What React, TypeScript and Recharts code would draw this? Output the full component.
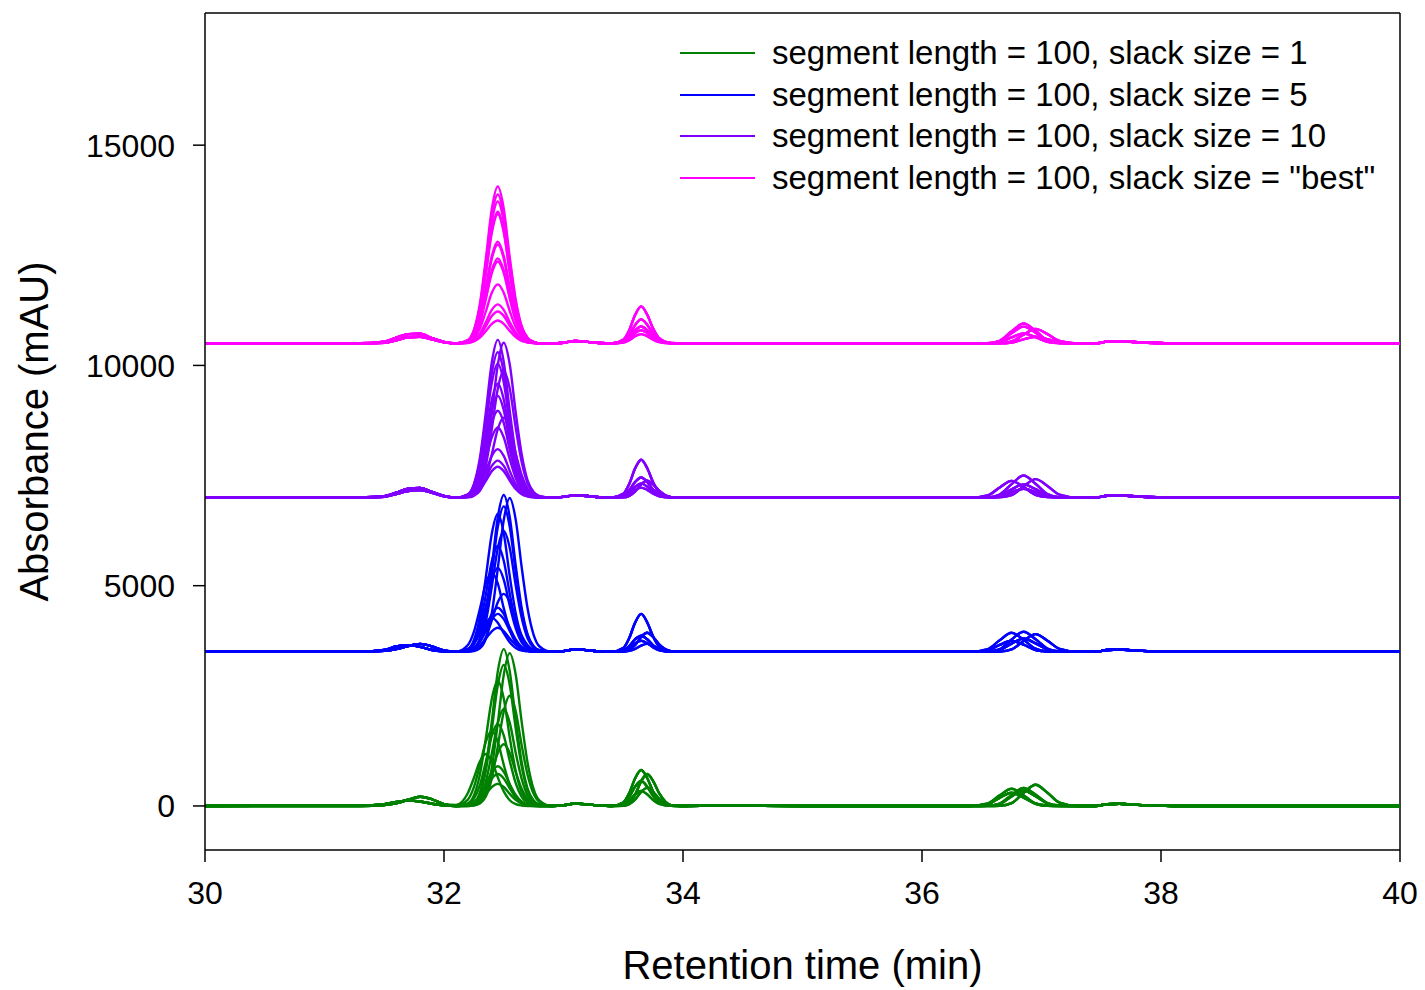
import React from 'react';
import { LineChart, Line, XAxis, YAxis, Legend, ReferenceLine } from 'recharts';

document.body.style.margin = '0';

const FONT = '"Liberation Sans", Arial, Helvetica, sans-serif';

// sample times (min) for each stretch of the chromatogram
const preX = [30, 31.3, 31.5, 31.6, 31.7, 31.8, 31.9, 32.0];
const mainX = [32.1, 32.2, 32.25, 32.3, 32.35, 32.4, 32.45, 32.5, 32.55, 32.6, 32.65, 32.7, 32.75, 32.8, 32.9];
const midX = [33.0, 33.1, 33.2, 33.3];
const secondX = [33.4, 33.5, 33.55, 33.6, 33.65, 33.7, 33.75, 33.8, 33.9, 34.0];
const flatX = [34.3, 35.0, 35.8, 36.2];
const fourthX = [36.4, 36.55, 36.65, 36.75, 36.85, 36.95, 37.05, 37.15, 37.3, 37.45];
const postX = [37.55, 37.65, 37.8, 38.1, 40];

// shared small features (mAU above each baseline)
const midBump = [15, 55, 35, 10];
const flatBase = [5, 0, 0, 0];
const postBump = [40, 50, 25, 0, 0];

const xTicks = [30, 32, 34, 36, 38, 40];
const yTicks = [0, 5000, 10000, 15000];

const legendLabels = [
  'segment length = 100, slack size = 1',
  'segment length = 100, slack size = 5',
  'segment length = 100, slack size = 10',
  'segment length = 100, slack size = "best"',
];
const colors = ['#008000', '#0000FF', '#8000FF', '#FF00FF'];
const baselines = [0, 3500, 7000, 10500];

// slack size = 1
const greenPre = [
  [0, 10, 40, 90, 120, 100, 50, 15],
  [0, 0, 20, 60, 140, 210, 150, 40],
];
const greenMain = [
  [0, 15, 75, 305, 890, 1920, 3050, 3560, 3060, 1960, 995, 390, 125, 35, 0],
  [0, 0, 15, 75, 295, 870, 1875, 2975, 3470, 2985, 1910, 970, 380, 120, 0],
  [0, 15, 65, 270, 800, 1730, 2740, 3200, 2750, 1760, 895, 350, 110, 30, 0],
  [0, 60, 240, 710, 1530, 2430, 2835, 2440, 1560, 795, 310, 100, 30, 0, 0],
  [0, 0, 10, 55, 215, 625, 1350, 2145, 2500, 2150, 1375, 700, 275, 90, 0],
  [0, 10, 45, 185, 550, 1190, 1885, 2200, 1890, 1210, 615, 240, 75, 20, 0],
  [0, 40, 160, 465, 1005, 1595, 1860, 1600, 1025, 520, 205, 65, 20, 0, 0],
  [5, 145, 425, 920, 1455, 1700, 1460, 935, 475, 185, 60, 15, 0, 0, 0],
  [0, 5, 30, 120, 350, 755, 1200, 1400, 1205, 770, 390, 155, 50, 15, 0],
  [25, 295, 635, 1010, 1180, 1015, 650, 330, 130, 40, 10, 0, 0, 0, 0],
  [0, 20, 75, 225, 485, 770, 900, 775, 495, 250, 100, 30, 10, 0, 0],
  [0, 15, 60, 180, 390, 620, 725, 625, 400, 205, 80, 25, 5, 0, 0],
  [0, 10, 45, 125, 270, 430, 500, 430, 275, 140, 55, 20, 5, 0, 0],
];
const greenSecond = [
  [0, 80, 295, 630, 815, 635, 325, 115, 10, 0],
  [0, 10, 75, 260, 560, 725, 565, 290, 20, 0],
  [0, 55, 205, 440, 565, 440, 225, 80, 5, 0],
  [0, 5, 40, 150, 320, 410, 320, 165, 10, 0],
  [0, 35, 120, 265, 340, 265, 135, 50, 5, 0],
];
const greenFourth = [
  [0, 55, 240, 390, 245, 60, 10, 0, 0, 0],
  [0, 5, 55, 250, 410, 260, 65, 10, 0, 0],
  [0, 0, 5, 65, 295, 480, 300, 75, 0, 0],
  [0, 5, 45, 215, 350, 220, 55, 5, 0, 0],
  [0, 40, 185, 300, 190, 50, 5, 0, 0, 0],
];

// slack size = 5
const bluePre = [
  [0, 5, 40, 120, 150, 110, 40, 10],
  [0, 0, 20, 60, 130, 180, 120, 30],
];
const blueMain = [
  [0, 15, 75, 305, 890, 1920, 3050, 3560, 3060, 1960, 995, 390, 125, 35, 0],
  [0, 0, 15, 75, 295, 875, 1885, 2990, 3490, 3000, 1920, 975, 385, 120, 0],
  [0, 15, 70, 280, 825, 1780, 2830, 3300, 2840, 1815, 925, 365, 115, 35, 0],
  [0, 65, 265, 785, 1690, 2680, 3130, 2690, 1720, 875, 345, 110, 30, 0, 0],
  [0, 10, 60, 235, 685, 1480, 2350, 2745, 2360, 1510, 770, 300, 95, 25, 0],
  [0, 50, 205, 600, 1295, 2055, 2400, 2065, 1320, 670, 265, 85, 25, 0, 0],
  [0, 40, 160, 475, 1030, 1635, 1905, 1640, 1050, 535, 210, 65, 20, 0, 0],
  [5, 155, 450, 970, 1545, 1800, 1550, 990, 505, 200, 65, 20, 0, 0, 0],
  [0, 5, 30, 110, 330, 710, 1125, 1315, 1130, 725, 370, 145, 45, 15, 0],
  [0, 20, 85, 250, 540, 855, 1000, 860, 550, 280, 110, 35, 10, 0, 0],
  [0, 20, 75, 215, 465, 735, 860, 740, 475, 240, 95, 30, 10, 0, 0],
  [5, 65, 195, 415, 660, 770, 660, 425, 215, 85, 25, 10, 0, 0, 0],
  [0, 10, 45, 135, 295, 465, 545, 470, 300, 155, 60, 20, 5, 0, 0],
];
const blueSecond = [
  [0, 85, 310, 665, 860, 670, 345, 120, 10, 0],
  [0, 5, 45, 155, 335, 430, 335, 170, 15, 0],
  [0, 35, 130, 285, 365, 285, 145, 50, 5, 0],
  [0, 25, 90, 195, 250, 195, 100, 35, 5, 0],
  [0, 5, 20, 65, 140, 180, 140, 70, 5, 0],
];
const blueFourth = [
  [0, 60, 260, 430, 270, 70, 10, 0, 0, 0],
  [0, 5, 60, 280, 455, 285, 75, 10, 0, 0],
  [0, 0, 5, 55, 245, 400, 250, 65, 0, 0],
  [0, 5, 40, 185, 300, 190, 50, 5, 0, 0],
  [0, 35, 155, 250, 160, 40, 5, 0, 0, 0],
];

// slack size = 10
const purplePre = [
  [0, 5, 30, 110, 200, 220, 130, 40],
  [0, 0, 20, 80, 150, 170, 110, 30],
];
const purpleMain = [
  [0, 75, 305, 895, 1935, 3070, 3580, 3080, 1970, 1000, 395, 125, 35, 0, 0],
  [0, 15, 75, 300, 880, 1900, 3010, 3515, 3025, 1935, 985, 385, 125, 35, 0],
  [0, 70, 280, 825, 1780, 2830, 3300, 2840, 1815, 925, 365, 115, 35, 0, 0],
  [0, 65, 260, 760, 1640, 2605, 3040, 2615, 1670, 850, 335, 105, 30, 0, 0],
  [0, 10, 60, 245, 720, 1555, 2470, 2880, 2475, 1585, 805, 315, 100, 30, 0],
  [0, 55, 220, 645, 1395, 2215, 2585, 2225, 1420, 725, 285, 90, 25, 0, 0],
  [0, 50, 195, 580, 1250, 1980, 2310, 1985, 1270, 645, 255, 80, 25, 0, 0],
  [0, 40, 165, 495, 1065, 1690, 1970, 1695, 1085, 550, 215, 70, 20, 0, 0],
  [0, 5, 40, 155, 455, 980, 1555, 1815, 1560, 1000, 510, 200, 65, 20, 0],
  [0, 35, 135, 400, 860, 1365, 1590, 1365, 875, 445, 175, 55, 15, 0, 0],
  [0, 25, 95, 275, 595, 945, 1100, 945, 605, 310, 120, 40, 10, 0, 0],
  [0, 20, 70, 210, 455, 720, 840, 720, 460, 235, 90, 30, 10, 0, 0],
  [0, 15, 60, 175, 380, 600, 700, 600, 385, 195, 75, 25, 5, 0, 0],
];
const purpleSecond = [
  [0, 85, 310, 665, 860, 670, 345, 120, 10, 0],
  [0, 45, 165, 355, 455, 355, 180, 65, 5, 0],
  [0, 5, 40, 140, 300, 385, 300, 155, 10, 0],
  [0, 30, 115, 245, 318, 250, 125, 45, 5, 0],
  [0, 25, 80, 175, 227, 175, 90, 30, 0, 0],
];
const purpleFourth = [
  [0, 5, 70, 305, 500, 315, 80, 10, 0, 0],
  [0, 0, 5, 55, 255, 420, 265, 65, 0, 0],
  [0, 50, 230, 380, 240, 60, 10, 0, 0, 0],
  [0, 5, 40, 185, 300, 190, 50, 5, 0, 0],
  [0, 0, 25, 120, 200, 125, 30, 5, 0, 0],
];

// slack size = "best"
const magentaPre = [
  [0, 5, 40, 130, 210, 220, 120, 35],
  [0, 0, 15, 70, 140, 150, 90, 25],
];
const magentaMain = [
  [0, 75, 300, 890, 1920, 3050, 3560, 3060, 1960, 1000, 390, 125, 35, 0, 0],
  [0, 70, 290, 845, 1825, 2900, 3380, 2905, 1860, 945, 370, 120, 35, 0, 0],
  [0, 70, 275, 805, 1740, 2760, 3220, 2770, 1770, 900, 355, 115, 30, 0, 0],
  [0, 65, 255, 750, 1615, 2560, 2990, 2570, 1645, 835, 330, 105, 30, 0, 0],
  [0, 60, 250, 735, 1580, 2510, 2930, 2520, 1610, 820, 320, 105, 30, 0, 0],
  [0, 50, 195, 580, 1250, 1980, 2310, 1985, 1270, 645, 255, 80, 25, 0, 0],
  [0, 45, 190, 560, 1210, 1925, 2245, 1930, 1235, 630, 245, 80, 20, 0, 0],
  [0, 40, 165, 485, 1040, 1655, 1930, 1660, 1060, 540, 210, 70, 20, 0, 0],
  [0, 40, 160, 465, 1005, 1595, 1860, 1600, 1025, 520, 205, 65, 20, 0, 0],
  [0, 30, 115, 335, 725, 1150, 1340, 1150, 735, 375, 145, 45, 15, 0, 0],
  [0, 20, 75, 220, 480, 760, 885, 760, 485, 250, 95, 30, 10, 0, 0],
  [0, 15, 60, 180, 390, 620, 725, 625, 400, 205, 80, 25, 5, 0, 0],
  [0, 10, 45, 130, 280, 445, 520, 445, 285, 145, 55, 20, 5, 0, 0],
];
const magentaSecond = [
  [0, 85, 300, 650, 840, 655, 335, 120, 10, 0],
  [0, 55, 195, 420, 545, 425, 220, 75, 5, 0],
  [0, 40, 140, 300, 385, 300, 155, 55, 5, 0],
  [0, 30, 110, 235, 300, 235, 120, 40, 5, 0],
  [0, 20, 75, 165, 210, 165, 85, 30, 0, 0],
];
const magentaFourth = [
  [0, 5, 60, 275, 450, 285, 70, 10, 0, 0],
  [0, 5, 50, 230, 380, 240, 60, 10, 0, 0],
  [0, 0, 5, 45, 200, 330, 210, 55, 0, 0],
  [0, 0, 30, 135, 225, 140, 35, 5, 0, 0],
  [0, 0, 0, 20, 90, 150, 95, 25, 0, 0],
];

const groups = [
  { pre: greenPre, main: greenMain, second: greenSecond, fourth: greenFourth },
  { pre: bluePre, main: blueMain, second: blueSecond, fourth: blueFourth },
  { pre: purplePre, main: purpleMain, second: purpleSecond, fourth: purpleFourth },
  { pre: magentaPre, main: magentaMain, second: magentaSecond, fourth: magentaFourth },
];

type Pt = { x: number; y: number };

const traces: { key: string; color: string; data: Pt[] }[] = [];
groups.forEach((g, gi) => {
  g.main.forEach((mainVals, i) => {
    const segs: [number[], number[]][] = [
      [preX, g.pre[i % 2]],
      [mainX, mainVals],
      [midX, midBump],
      [secondX, g.second[i % 5]],
      [flatX, flatBase],
      [fourthX, g.fourth[(i + 2) % 5]],
      [postX, postBump],
    ];
    const data: Pt[] = [];
    segs.forEach(([xs, ys]) => xs.forEach((x, k) => data.push({ x, y: baselines[gi] + ys[k] })));
    traces.push({ key: `g${gi}-t${i}`, color: colors[gi], data });
  });
});

function LegendBox() {
  return (
    <div style={{ fontFamily: FONT, fontSize: 33, color: '#000' }}>
      {legendLabels.map((label, i) => (
        <div key={label} style={{ display: 'flex', alignItems: 'center', height: 41.7, whiteSpace: 'nowrap' }}>
          <div style={{ width: 75, height: 2, background: colors[i], marginRight: 17 }} />
          <span>{label}</span>
        </div>
      ))}
    </div>
  );
}

function YTitle(props: any) {
  const vb = props.viewBox;
  const cy = vb.y + vb.height / 2;
  return (
    <text
      x={34} y={cy} transform={`rotate(-90 34 ${cy})`}
      textAnchor="middle" dominantBaseline="central"
      fontSize={40} fontFamily={FONT} fill="#000"
    >
      Absorbance (mAU)
    </text>
  );
}

export default function App() {
  const tick = { fontSize: 32, fill: '#000', fontFamily: FONT };
  return (
    <div style={{ width: 1425, height: 990, background: '#fff', position: 'relative' }}>
      <LineChart width={1425} height={990} margin={{ top: 13, right: 25, bottom: 0, left: 0 }}>
        <XAxis
          xAxisId="x" dataKey="x" type="number" domain={[30, 40]} ticks={xTicks}
          allowDataOverflow height={140} tick={tick}
          tickSize={12} tickMargin={19}
          stroke="#000" strokeWidth={1.5}
          label={{ value: 'Retention time (min)', position: 'insideBottom', offset: 11, fontSize: 40, fontFamily: FONT, fill: '#000' }}
        />
        <YAxis
          yAxisId="y" type="number" domain={[-1000, 18000]} ticks={yTicks}
          allowDataOverflow width={205} tick={tick}
          tickSize={12} tickMargin={18}
          stroke="#000" strokeWidth={1.5}
          label={{ content: (p: any) => <YTitle {...p} /> }}
        />
        <ReferenceLine xAxisId="x" yAxisId="y" y={18000} stroke="#000" strokeWidth={1.5} />
        <ReferenceLine xAxisId="x" yAxisId="y" x={40} stroke="#000" strokeWidth={1.5} />
        <Legend
          layout="vertical" align="center" verticalAlign="middle"
          wrapperStyle={{ left: 680, top: 32, width: 720 }}
          content={() => <LegendBox />}
        />
        {traces.map(t => (
          <Line
            key={t.key} xAxisId="x" yAxisId="y"
            data={t.data} dataKey="y" type="monotone"
            stroke={t.color} strokeWidth={2.4} dot={false}
            isAnimationActive={false} legendType="none"
          />
        ))}
      </LineChart>
    </div>
  );
}
